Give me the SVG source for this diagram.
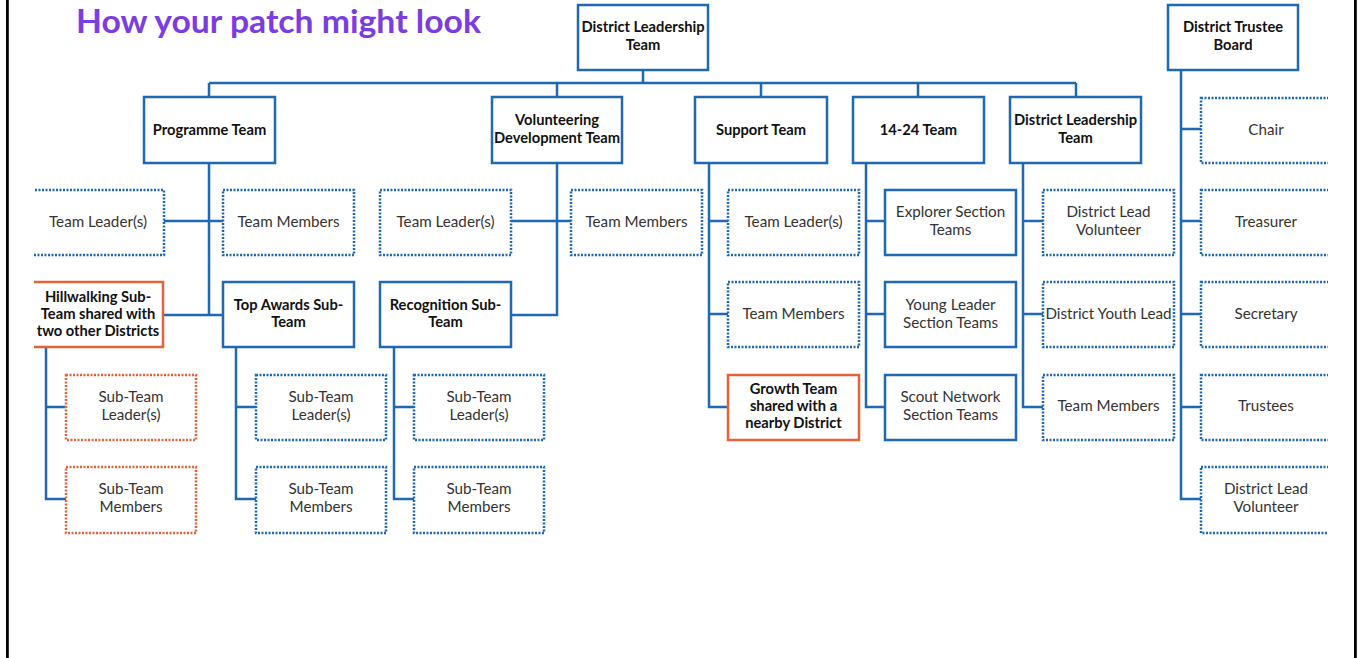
<svg xmlns="http://www.w3.org/2000/svg" width="1361" height="658" viewBox="0 0 1361 658">
  <defs>
    <clipPath id="content">
      <rect x="34" y="0" width="1294" height="658"/>
    </clipPath>
    <style>
      .solid { fill: #fff; stroke: #1f68b2; stroke-width: 2.5; }
      .dot { fill: #fff; stroke: #1f68b2; stroke-width: 2.5; stroke-dasharray: 2 1.5; }
      .osolid { fill: #fff; stroke: #e2633a; stroke-width: 2.5; }
      .odot { fill: #fff; stroke: #e2633a; stroke-width: 2.5; stroke-dasharray: 2 1.5; }
      .link { fill: none; stroke: #1f68b2; stroke-width: 2.5; }
      text { font-family: Lato, "Open Sans", "Liberation Sans", sans-serif; text-anchor: middle; }
      .b { font-size: 14.7px; font-weight: 700; fill: #111; }
      .r { font-size: 15.2px; font-weight: 400; fill: #333; }
      .title { font-size: 32px; font-weight: 700; fill: #7b3ce2; text-anchor: start; }
    </style>
  </defs>
  <rect width="1361" height="658" fill="#fff"/>
  <!-- page frame sides -->
  <rect x="6" y="0" width="2.8" height="658" fill="#000"/>
  <rect x="1354" y="0" width="2.8" height="658" fill="#000"/>

  <text class="title" x="76" y="33" textLength="405" lengthAdjust="spacingAndGlyphs">How your patch might look</text>

  <g clip-path="url(#content)">
    <g id="connectors">
      <path class="link" d="M643 70V83M209 83H1076M209 83V97M557 83V97M761 83V97M918 83V97M1076 83V97"/>
      <path class="link" d="M209 163V315M164 221H223M164 315H223"/>
      <path class="link" d="M46 347V499H66M46 407H66"/>
      <path class="link" d="M236 347V499H256M236 407H256"/>
      <path class="link" d="M557 163V315H511M511 221H571"/>
      <path class="link" d="M394 347V499H414M394 407H414"/>
      <path class="link" d="M709 163V407H728M709 221H728M709 314H728"/>
      <path class="link" d="M866 163V407H885M866 221H885M866 314H885"/>
      <path class="link" d="M1023 163V407H1043M1023 221H1043M1023 314H1043"/>
      <path class="link" d="M1181 70V499H1201M1181 129H1201M1181 221H1201M1181 314H1201M1181 407H1201"/>
    </g>

    <g id="district-leadership-team">
      <rect class="solid" x="578" y="5" width="130" height="65"/>
      <text class="b" x="643" y="32">District Leadership</text>
      <text class="b" x="643" y="50">Team</text>
    </g>
    <g id="district-trustee-board">
      <rect class="solid" x="1168" y="5" width="130" height="65"/>
      <text class="b" x="1233" y="32">District Trustee</text>
      <text class="b" x="1233" y="50">Board</text>
    </g>

    <!-- second tier -->
    <g id="programme-team">
      <rect class="solid" x="144" y="97" width="131" height="66"/>
      <text class="b" x="209.5" y="135">Programme Team</text>
    </g>
    <g id="volunteering-development-team">
      <rect class="solid" x="492" y="97" width="130" height="66"/>
      <text class="b" x="557" y="125">Volunteering</text>
      <text class="b" x="557" y="143">Development Team</text>
    </g>
    <g id="support-team">
      <rect class="solid" x="695" y="97" width="132" height="66"/>
      <text class="b" x="761" y="135">Support Team</text>
    </g>
    <g id="team-14-24">
      <rect class="solid" x="853" y="97" width="131" height="66"/>
      <text class="b" x="918.5" y="135">14-24 Team</text>
    </g>
    <g id="district-leadership-team-2">
      <rect class="solid" x="1010" y="97" width="131" height="66"/>
      <text class="b" x="1075.5" y="125">District Leadership</text>
      <text class="b" x="1075.5" y="143">Team</text>
    </g>

    <!-- programme team -->
    <g id="programme-leaders">
      <rect class="dot" x="28" y="190" width="136" height="65"/>
      <text class="r" x="98" y="227">Team Leader(s)</text>
    </g>
    <g id="programme-members">
      <rect class="dot" x="223" y="190" width="131" height="65"/>
      <text class="r" x="288.5" y="227">Team Members</text>
    </g>
    <g id="hillwalking-sub-team">
      <rect class="osolid" x="28" y="282" width="135" height="65"/>
      <text class="b" x="98" y="302">Hillwalking Sub-</text>
      <text class="b" x="98" y="319">Team shared with</text>
      <text class="b" x="98" y="336">two other Districts</text>
    </g>
    <g id="top-awards-sub-team">
      <rect class="solid" x="223" y="282" width="131" height="65"/>
      <text class="b" x="288.5" y="310">Top Awards Sub-</text>
      <text class="b" x="288.5" y="327">Team</text>
    </g>
    <g id="hillwalking-leaders">
      <rect class="odot" x="66" y="375" width="130" height="65"/>
      <text class="r" x="131" y="402">Sub-Team</text>
      <text class="r" x="131" y="420">Leader(s)</text>
    </g>
    <g id="hillwalking-members">
      <rect class="odot" x="66" y="467" width="130" height="66"/>
      <text class="r" x="131" y="494">Sub-Team</text>
      <text class="r" x="131" y="512">Members</text>
    </g>
    <g id="top-awards-leaders">
      <rect class="dot" x="256" y="375" width="130" height="65"/>
      <text class="r" x="321" y="402">Sub-Team</text>
      <text class="r" x="321" y="420">Leader(s)</text>
    </g>
    <g id="top-awards-members">
      <rect class="dot" x="256" y="467" width="130" height="66"/>
      <text class="r" x="321" y="494">Sub-Team</text>
      <text class="r" x="321" y="512">Members</text>
    </g>

    <!-- volunteering development team -->
    <g id="volunteering-leaders">
      <rect class="dot" x="380" y="190" width="131" height="65"/>
      <text class="r" x="445.5" y="227">Team Leader(s)</text>
    </g>
    <g id="volunteering-members">
      <rect class="dot" x="571" y="190" width="131" height="65"/>
      <text class="r" x="636.5" y="227">Team Members</text>
    </g>
    <g id="recognition-sub-team">
      <rect class="solid" x="380" y="282" width="131" height="65"/>
      <text class="b" x="445.5" y="310">Recognition Sub-</text>
      <text class="b" x="445.5" y="327">Team</text>
    </g>
    <g id="recognition-leaders">
      <rect class="dot" x="414" y="375" width="130" height="65"/>
      <text class="r" x="479" y="402">Sub-Team</text>
      <text class="r" x="479" y="420">Leader(s)</text>
    </g>
    <g id="recognition-members">
      <rect class="dot" x="414" y="467" width="130" height="66"/>
      <text class="r" x="479" y="494">Sub-Team</text>
      <text class="r" x="479" y="512">Members</text>
    </g>

    <!-- support team -->
    <g id="support-leaders">
      <rect class="dot" x="728" y="190" width="131" height="65"/>
      <text class="r" x="793.5" y="227">Team Leader(s)</text>
    </g>
    <g id="support-members">
      <rect class="dot" x="728" y="282" width="131" height="65"/>
      <text class="r" x="793.5" y="319">Team Members</text>
    </g>
    <g id="growth-team">
      <rect class="osolid" x="728" y="375" width="131" height="65"/>
      <text class="b" x="793.5" y="394">Growth Team</text>
      <text class="b" x="793.5" y="411">shared with a</text>
      <text class="b" x="793.5" y="428">nearby District</text>
    </g>

    <!-- 14-24 team -->
    <g id="explorer-section-teams">
      <rect class="solid" x="885" y="190" width="131" height="65"/>
      <text class="r" x="950.5" y="217">Explorer Section</text>
      <text class="r" x="950.5" y="235">Teams</text>
    </g>
    <g id="young-leader-section-teams">
      <rect class="solid" x="885" y="282" width="131" height="65"/>
      <text class="r" x="950.5" y="310">Young Leader</text>
      <text class="r" x="950.5" y="328">Section Teams</text>
    </g>
    <g id="scout-network-section-teams">
      <rect class="solid" x="885" y="375" width="131" height="65"/>
      <text class="r" x="950.5" y="402">Scout Network</text>
      <text class="r" x="950.5" y="420">Section Teams</text>
    </g>

    <!-- district leadership team roles -->
    <g id="district-lead-volunteer">
      <rect class="dot" x="1043" y="190" width="131" height="65"/>
      <text class="r" x="1108.5" y="217">District Lead</text>
      <text class="r" x="1108.5" y="235">Volunteer</text>
    </g>
    <g id="district-youth-lead">
      <rect class="dot" x="1043" y="282" width="131" height="65"/>
      <text class="r" x="1108.5" y="319">District Youth Lead</text>
    </g>
    <g id="dlt-members">
      <rect class="dot" x="1043" y="375" width="131" height="65"/>
      <text class="r" x="1108.5" y="411">Team Members</text>
    </g>

    <!-- trustee board roles -->
    <g id="chair">
      <rect class="dot" x="1201" y="98" width="135" height="65"/>
      <text class="r" x="1266" y="135">Chair</text>
    </g>
    <g id="treasurer">
      <rect class="dot" x="1201" y="190" width="135" height="65"/>
      <text class="r" x="1266" y="227">Treasurer</text>
    </g>
    <g id="secretary">
      <rect class="dot" x="1201" y="282" width="135" height="65"/>
      <text class="r" x="1266" y="319">Secretary</text>
    </g>
    <g id="trustees">
      <rect class="dot" x="1201" y="375" width="135" height="65"/>
      <text class="r" x="1266" y="411">Trustees</text>
    </g>
    <g id="trustee-lead-volunteer">
      <rect class="dot" x="1201" y="467" width="135" height="66"/>
      <text class="r" x="1266" y="494">District Lead</text>
      <text class="r" x="1266" y="512">Volunteer</text>
    </g>
  </g>
</svg>
